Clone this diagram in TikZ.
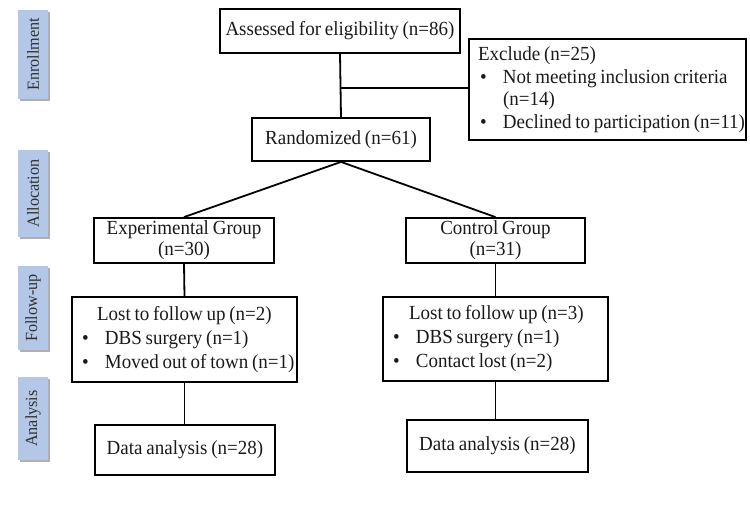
\documentclass[tikz,border=0pt]{standalone}
\usepackage{fontspec}
\setmainfont{Liberation Serif}[FakeStretch=0.95, WordSpace=0.8]
\usetikzlibrary{shadows}
\definecolor{sideblue}{HTML}{B4C7E7}
\definecolor{ink}{HTML}{1A1A1A}
\newcommand{\bul}{\makebox[23pt][l]{\textbullet}}
\begin{document}
\begin{tikzpicture}[x=1pt,y=-1pt,
 box/.style={draw=black, line width=1.8pt, inner sep=0pt, text=ink, font=\fontsize{20}{22.5}\selectfont},
 listbox/.style={box, align=left, inner xsep=0pt},
 link/.style={line width=1.8pt},
 side/.style={fill=sideblue, inner sep=0pt, minimum width=30pt, text=ink!90, font=\fontsize{17}{19}\selectfont,
   drop shadow={shadow xshift=2pt, shadow yshift=-2pt, fill=gray!70, opacity=0.9}}]
\useasboundingbox (0,0) rectangle (750,507);

% side labels
\node[side, minimum height=89pt] (enr) at (33,54.5) {\rotatebox{90}{Enrollment}};
\node[side, minimum height=87pt] (alo) at (33,193.5) {\rotatebox{90}{Allocation}};
\node[side, minimum height=84pt] (fol) at (33,308) {\rotatebox{90}{Follow-up}};
\node[side, minimum height=83pt] (ana) at (33,418.5) {\rotatebox{90}{Analysis}};

% main boxes
\node[box, minimum width=240pt, minimum height=44pt] (assess) at (340,31) {Assessed for eligibility (n=86)};
\node[box, minimum width=178pt, minimum height=43pt] (rand) at (341,139.5) {Randomized (n=61)};
\node[listbox, minimum width=277pt, minimum height=101pt, text width=259pt] (excl) at (607.5,89.5)
 {\spaceskip=0pt\xspaceskip=0pt\relax
  \mbox{Exclude (n=25)}\\
  \mbox{\hspace*{2pt}\bul Not meeting inclusion criteria}\\
  \mbox{\hspace*{25pt}(n=14)}\\
  \mbox{\hspace*{2pt}\bul Declined to participation (n=11)}};
\node[box, minimum width=180pt, minimum height=45pt, align=center, font=\fontsize{20}{21}\selectfont] (exp) at (184,240.5) {Experimental Group\\(n=30)};
\node[box, minimum width=179pt, minimum height=45pt, align=center, font=\fontsize{20}{21}\selectfont] (ctl) at (495.5,240.5) {Control Group\\(n=31)};
\node[listbox, minimum width=225pt, minimum height=85pt, text width=205pt, font=\fontsize{20}{24}\selectfont] (lostl) at (184.5,339.5)
 {\spaceskip=0pt\xspaceskip=0pt\relax
  \mbox{\hspace*{15pt}Lost to follow up (n=2)}\\
  \mbox{\bul DBS surgery (n=1)}\\
  \mbox{\bul Moved out of town (n=1)}};
\node[listbox, minimum width=225pt, minimum height=84pt, text width=205pt, font=\fontsize{20}{24}\selectfont] (lostr) at (495.5,339)
 {\spaceskip=0pt\xspaceskip=0pt\relax
  \mbox{\hspace*{16pt}Lost to follow up (n=3)}\\
  \mbox{\bul DBS surgery (n=1)}\\
  \mbox{\bul Contact lost (n=2)}};
\node[box, minimum width=180pt, minimum height=50pt] (datal) at (185,450) {Data analysis (n=28)};
\node[box, minimum width=181pt, minimum height=52pt] (datar) at (497.5,446) {Data analysis (n=28)};

% connectors
\draw[link] (assess.south) -- (rand.north);
\coordinate (br) at (340,88);
\draw[link] (br) -- (br -| excl.west);
\draw[link] (rand.south) -- (exp.north);
\draw[link] (rand.south) -- (ctl.north);
\draw[link] (exp.south) -- (lostl.north);
\draw[link] (ctl.south) -- (lostr.north);
\draw[link] (lostl.south) -- (lostl.south |- datal.north);
\draw[link] (lostr.south) -- (lostr.south |- datar.north);
\end{tikzpicture}
\end{document}
